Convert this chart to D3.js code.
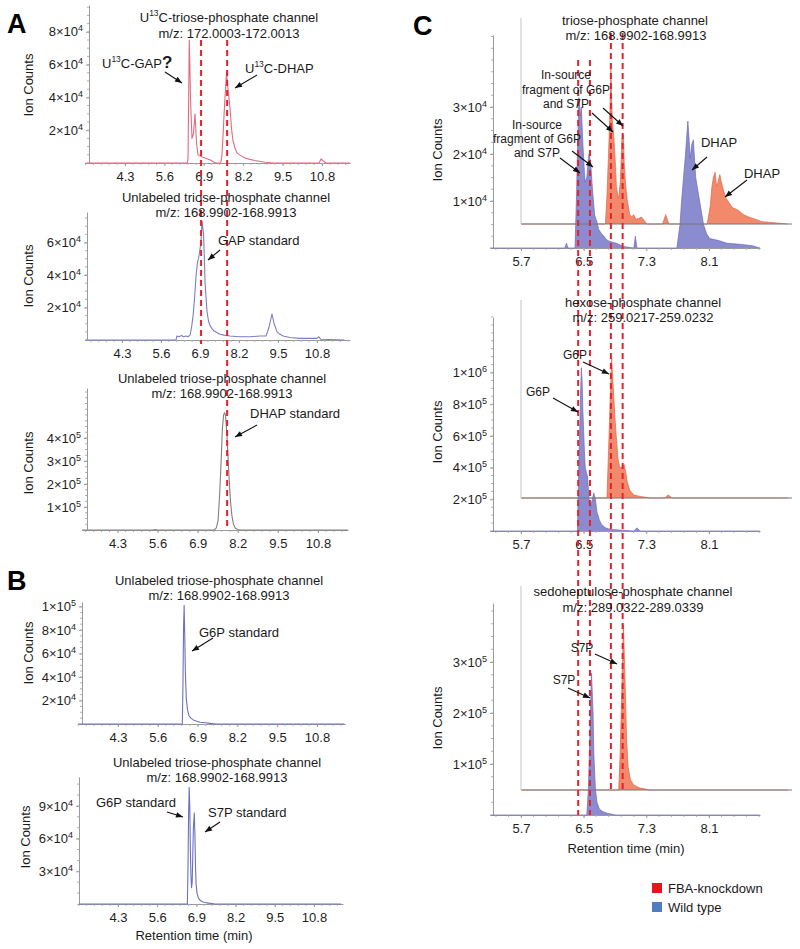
<!DOCTYPE html>
<html><head><meta charset="utf-8">
<script src="https://cdn.jsdelivr.net/npm/d3@7"></script>
<style>
body{margin:0;background:#fff;}
svg{display:block;}
</style></head>
<body><svg id="c" width="800" height="949"></svg>
<script>
// ---------------- DATA ----------------
const xTicksAB = [4.3, 5.6, 6.9, 8.2, 9.5, 10.8];
const xTicksC = [5.7, 6.5, 7.3, 8.1];

// Panel A1: U13C-triose-phosphate channel
const A1_time = [3.0, 6.36, 6.38, 6.40, 6.42, 6.44, 6.46, 6.51, 6.56, 6.61, 6.66, 6.71, 6.76, 6.81, 6.87, 6.94, 7.02, 7.10, 7.24, 7.30, 7.46, 7.50, 7.53, 7.57, 7.60, 7.65, 7.70, 7.74, 7.77, 7.82, 7.86, 7.93, 8.00, 8.12, 8.26, 8.42, 8.59, 8.92, 9.20, 10.70, 10.77, 10.83, 10.93, 11.72];
const A1_counts = [0, 0, 0.3e4, 4.0e4, 7.5e4, 6.0e4, 4.0e4, 1.5e4, 1.8e4, 3.0e4, 1.2e4, 0.5e4, 0.45e4, 0.4e4, 0.35e4, 0.3e4, 0.25e4, 0.2e4, 0.05e4, 0, 0, 0.5e4, 1.5e4, 3.0e4, 4.0e4, 5.5e4, 4.5e4, 3.8e4, 3.2e4, 2.0e4, 1.4e4, 0.9e4, 0.6e4, 0.45e4, 0.3e4, 0.22e4, 0.15e4, 0.05e4, 0, 0, 0.25e4, 0.15e4, 0, 0];
const A1_yTicks = [2e4, 4e4, 6e4, 8e4];

// Panel A2: GAP standard
const A2_time = [3.0, 6.10, 6.13, 6.20, 6.28, 6.35, 6.43, 6.50, 6.57, 6.62, 6.67, 6.72, 6.77, 6.82, 6.87, 6.93, 6.97, 7.02, 7.07, 7.13, 7.18, 7.23, 7.30, 7.37, 7.47, 7.57, 7.70, 7.90, 8.20, 8.57, 8.90, 9.10, 9.15, 9.20, 9.25, 9.30, 9.37, 9.47, 9.57, 9.67, 9.90, 10.23, 10.80, 10.86, 10.92, 11.72];
const A2_counts = [0, 0, 0.25e4, 0.2e4, 0.28e4, 0.2e4, 0.25e4, 0.2e4, 0.3e4, 0.8e4, 1.5e4, 2.6e4, 4.0e4, 4.8e4, 5.2e4, 6.0e4, 7.3e4, 6.5e4, 3.5e4, 1.8e4, 1.2e4, 0.9e4, 0.7e4, 0.55e4, 0.45e4, 0.35e4, 0.3e4, 0.25e4, 0.2e4, 0.2e4, 0.25e4, 0.25e4, 0.5e4, 0.8e4, 1.2e4, 1.6e4, 1.0e4, 0.5e4, 0.35e4, 0.25e4, 0.15e4, 0.1e4, 0.1e4, 0.2e4, 0.05e4, 0];
const A2_yTicks = [2e4, 4e4, 6e4];

// Panel A3: DHAP standard
const A3_time = [3.15, 5.45, 5.52, 5.60, 7.43, 7.50, 7.56, 7.61, 7.66, 7.70, 7.74, 7.77, 7.80, 7.84, 7.88, 7.92, 7.96, 8.01, 8.06, 8.12, 8.20, 8.30, 11.77];
const A3_counts = [0, 0, 0.02e5, 0, 0, 0.08e5, 0.4e5, 1.5e5, 3.0e5, 4.4e5, 5.0e5, 5.1e5, 5.0e5, 4.3e5, 3.3e5, 2.2e5, 1.3e5, 0.6e5, 0.25e5, 0.08e5, 0.02e5, 0, 0];
const A3_yTicks = [1e5, 2e5, 3e5, 4e5];

// Panel B1: G6P standard
const B1_time = [3.0, 6.40, 6.42, 6.44, 6.46, 6.48, 6.50, 6.53, 6.57, 6.62, 6.68, 6.76, 6.85, 6.98, 7.15, 7.31, 7.50, 11.7];
const B1_counts = [0, 0, 3e4, 8e4, 10.1e4, 7.5e4, 4.5e4, 2.2e4, 1.2e4, 0.7e4, 0.5e4, 0.35e4, 0.25e4, 0.15e4, 0.1e4, 0.05e4, 0, 0];
const B1_yTicks = [2e4, 4e4, 6e4, 8e4, 1e5];

// Panel B2: G6P + S7P standards
const B2_time = [3.0, 6.60, 6.62, 6.64, 6.66, 6.68, 6.70, 6.72, 6.74, 6.76, 6.78, 6.80, 6.83, 6.85, 6.87, 6.89, 6.92, 6.96, 7.02, 7.10, 7.25, 7.52, 11.7];
const B2_counts = [0, 0, 3e4, 8e4, 10.7e4, 9e4, 5e4, 2.5e4, 1.5e4, 2e4, 4.5e4, 7e4, 8.35e4, 6.5e4, 3.5e4, 1.8e4, 1e4, 0.6e4, 0.35e4, 0.2e4, 0.1e4, 0, 0];
const B2_yTicks = [3e4, 6e4, 9e4];

// Panel C1: triose-phosphate channel (wild type / FBA-knockdown)
const C1_wt_time = [5.30, 6.26, 6.28, 6.30, 6.39, 6.41, 6.42, 6.44, 6.46, 6.47, 6.49, 6.51, 6.52, 6.54, 6.56, 6.57, 6.59, 6.61, 6.62, 6.64, 6.67, 6.69, 6.73, 6.76, 6.79, 6.82, 6.87, 6.92, 7.01, 7.14, 7.16, 7.18, 7.69, 7.73, 7.75, 7.78, 7.80, 7.83, 7.85, 7.86, 7.88, 7.90, 7.93, 7.96, 7.98, 8.03, 8.07, 8.11, 8.17, 8.24, 8.33, 8.49, 8.65, 8.75];
const C1_wt_counts = [0, 0, 0.1e4, 0, 0, 1.2e4, 2.0e4, 3.2e4, 2.8e4, 3.0e4, 2.2e4, 1.6e4, 1.4e4, 1.5e4, 1.9e4, 2.0e4, 1.8e4, 1.3e4, 1.1e4, 0.7e4, 0.55e4, 0.4e4, 0.3e4, 0.25e4, 0.18e4, 0.15e4, 0.12e4, 0.1e4, 0.03e4, 0, 0.25e4, 0, 0, 0.5e4, 1.0e4, 1.6e4, 2.0e4, 2.7e4, 2.2e4, 1.9e4, 2.2e4, 2.3e4, 1.5e4, 1.2e4, 1.0e4, 0.5e4, 0.3e4, 0.2e4, 0.18e4, 0.15e4, 0.1e4, 0.08e4, 0.05e4, 0];
const C1_kd_time = [5.35, 6.42, 6.44, 6.46, 6.47, 6.48, 6.49, 6.50, 6.51, 6.53, 6.55, 6.56, 6.58, 6.59, 6.61, 6.62, 6.63, 6.65, 6.66, 6.68, 6.70, 6.73, 6.76, 6.78, 6.81, 6.85, 6.88, 6.95, 7.15, 7.19, 7.23, 7.72, 7.76, 7.78, 7.80, 7.82, 7.84, 7.86, 7.88, 7.90, 7.93, 7.96, 8.00, 8.04, 8.11, 8.18, 8.25, 8.42, 8.75];
const C1_kd_counts = [0, 0, 0.6e4, 1.5e4, 2.0e4, 2.5e4, 3.3e4, 2.6e4, 2.2e4, 1.8e4, 1.2e4, 0.8e4, 0.6e4, 0.55e4, 0.9e4, 1.3e4, 1.8e4, 1.9e4, 1.3e4, 0.8e4, 0.5e4, 0.2e4, 0.15e4, 0.2e4, 0.1e4, 0.12e4, 0.15e4, 0, 0, 0.2e4, 0, 0, 0.4e4, 0.8e4, 1.0e4, 1.1e4, 0.8e4, 0.9e4, 1.05e4, 0.9e4, 0.7e4, 0.55e4, 0.45e4, 0.35e4, 0.3e4, 0.2e4, 0.15e4, 0.05e4, 0];
const C1_yTicks = [1e4, 2e4, 3e4];

// Panel C2: hexose-phosphate channel
const C2_wt_time = [5.30, 6.42, 6.44, 6.46, 6.47, 6.48, 6.49, 6.51, 6.52, 6.54, 6.55, 6.57, 6.59, 6.61, 6.63, 6.65, 6.67, 6.70, 6.73, 6.78, 6.84, 7.14, 7.18, 7.22, 8.75];
const C2_wt_counts = [0, 0, 0.45e6, 0.85e6, 1.03e6, 0.95e6, 0.76e6, 0.5e6, 0.4e6, 0.36e6, 0.34e6, 0.18e6, 0.15e6, 0.2e6, 0.24e6, 0.2e6, 0.12e6, 0.07e6, 0.04e6, 0.02e6, 0.01e6, 0, 0.02e6, 0, 0];
const C2_kd_time = [5.35, 6.44, 6.46, 6.48, 6.50, 6.52, 6.54, 6.56, 6.58, 6.60, 6.62, 6.64, 6.66, 6.68, 6.70, 6.73, 6.78, 6.86, 7.0, 7.18, 7.22, 7.27, 8.75];
const C2_kd_counts = [0, 0, 0.3e6, 0.6e6, 0.88e6, 0.7e6, 0.52e6, 0.38e6, 0.25e6, 0.2e6, 0.19e6, 0.2e6, 0.21e6, 0.16e6, 0.1e6, 0.05e6, 0.02e6, 0.01e6, 0, 0, 0.02e6, 0, 0];
const C2_yTicks = [2e5, 4e5, 6e5, 8e5, 1e6];

// Panel C3: sedoheptulose-phosphate channel
const C3_wt_time = [5.30, 6.54, 6.56, 6.58, 6.60, 6.62, 6.63, 6.65, 6.67, 6.70, 6.74, 6.81, 6.91, 8.75];
const C3_wt_counts = [0, 0, 0.5e5, 1.6e5, 2.78e5, 2.0e5, 1.2e5, 0.5e5, 0.25e5, 0.12e5, 0.07e5, 0.03e5, 0, 0];
const C3_kd_time = [5.35, 6.59, 6.61, 6.63, 6.65, 6.67, 6.69, 6.71, 6.74, 6.78, 6.86, 6.99, 8.75];
const C3_kd_counts = [0, 0, 0.8e5, 2.0e5, 3.24e5, 2.2e5, 1.0e5, 0.45e5, 0.2e5, 0.1e5, 0.04e5, 0, 0];
const C3_yTicks = [1e5, 2e5, 3e5];

// reference retention times (dashed lines)
const dashA_times = [6.81, 7.67];
const dashC_wt_times = [6.43, 6.58];
const dashC_kd_times = [6.49, 6.64];

const legendLabels = ["FBA-knockdown", "Wild type"];
const legendColors = ["#e8141c", "#4f7fc2"];

// ---------------- DRAWING ----------------
const FONT = "'Liberation Sans', Arial, Helvetica, sans-serif";
const AX = "#9a9a9a";
const svg = d3.select("#c").attr("font-family", FONT);
const defs = svg.append("defs");
defs.append("marker").attr("id", "arr").attr("viewBox", "0 0 10 10")
  .attr("refX", 10).attr("refY", 5).attr("markerWidth", 8).attr("markerHeight", 7)
  .attr("markerUnits", "userSpaceOnUse").attr("orient", "auto")
  .append("path").attr("d", "M0,1 L10,5 L0,9 z").attr("fill", "#111");

function mkX(t1, p1, t2, p2, left, right) {
  const s = d3.scaleLinear().domain([t1, t2]).range([p1, p2]);
  return d3.scaleLinear().domain([s.invert(left), s.invert(right)]).range([left, right]).clamp(true);
}
function mkY(base, ppu, top) {
  return d3.scaleLinear().domain([0, (base - top) / ppu]).range([base, top]);
}
function styleAxis(a) {
  a.select(".domain").attr("stroke", AX);
  a.selectAll(".tick line").attr("stroke", AX);
  a.selectAll(".tick text").attr("fill", "#1e1e1e").attr("font-size", 13).attr("font-family", FONT);
}
function sciFmt(sel) {
  sel.each(function (d) {
    const t = d3.select(this); t.text("");
    const e = Math.floor(Math.log10(d) + 1e-9);
    const m = Math.round(d / Math.pow(10, e));
    t.append("tspan").text(m + "×10");
    t.append("tspan").attr("font-size", 9).attr("dy", -5).text(e);
  });
}
function xAxis(g, xs, y0, ticks, minorStep) {
  const a = g.append("g").attr("transform", `translate(0,${y0})`)
    .call(d3.axisBottom(xs).tickValues(ticks).tickSize(3).tickSizeOuter(0).tickPadding(6).tickFormat(d3.format(".1f")));
  styleAxis(a);
  const [d0, d1] = xs.domain();
  const minors = d3.range(Math.ceil((d0 - ticks[0]) / minorStep), Math.floor((d1 - ticks[0]) / minorStep) + 1)
    .map(i => ticks[0] + i * minorStep);
  a.selectAll(".mn").data(minors).join("line").attr("class", "mn")
    .attr("x1", d => xs(d)).attr("x2", d => xs(d)).attr("y1", 0).attr("y2", 2).attr("stroke", "#b0b0b0");
}
function yAxis(g, ys, x0, ticks, minorStep) {
  const a = g.append("g").attr("transform", `translate(${x0},0)`)
    .call(d3.axisLeft(ys).tickValues(ticks).tickSize(3).tickSizeOuter(0).tickPadding(3));
  styleAxis(a);
  a.selectAll(".tick text").call(sciFmt);
  const minors = d3.range(1, Math.floor(ys.domain()[1] / minorStep) + 1).map(i => i * minorStep);
  a.selectAll(".mn").data(minors).join("line").attr("class", "mn")
    .attr("y1", d => ys(d)).attr("y2", d => ys(d)).attr("x1", 0).attr("x2", -2).attr("stroke", "#b0b0b0");
}
function rich(x, y, parts, opts = {}) {
  const fs = opts.fs || 13;
  const t = svg.append("text").attr("x", x).attr("y", y).attr("font-size", fs)
    .attr("fill", "#1a1a1a").attr("text-anchor", opts.anchor || "start");
  if (opts.rotate) t.attr("transform", `rotate(-90,${x},${y})`);
  let shift = 0;
  parts.forEach(p => {
    if (typeof p === "string") p = { t: p };
    const ts = t.append("tspan").text(p.t);
    if (p.sup) { ts.attr("font-size", fs * 0.65).attr("dy", -fs * 0.4); shift = fs * 0.4; }
    else if (shift) { ts.attr("dy", shift); shift = 0; }
    if (p.bold) ts.attr("font-weight", "bold");
    if (p.fs) ts.attr("font-size", p.fs);
  });
  return t;
}
function arrow(x1, y1, x2, y2) {
  svg.append("line").attr("x1", x1).attr("y1", y1).attr("x2", x2).attr("y2", y2)
    .attr("stroke", "#111").attr("stroke-width", 1.1).attr("marker-end", "url(#arr)");
}
function ionLabel(x, y) { rich(x, y, ["Ion Counts"], { anchor: "middle", rotate: true }); }

function stdPanel(cfg) {
  const xs = mkX(4.3, cfg.p43, 10.8, cfg.p108, cfg.left, cfg.right);
  const ys = mkY(cfg.base, cfg.ppu, cfg.top);
  const g = svg.append("g");
  xAxis(g, xs, cfg.base, xTicksAB, 0.26);
  yAxis(g, ys, cfg.yAxisX, cfg.yTicks, cfg.minor);
  const line = d3.line().x((d, i) => xs(cfg.t[i])).y(d => ys(d));
  g.append("path").datum(cfg.v).attr("d", line).attr("fill", "none")
    .attr("stroke", cfg.color).attr("stroke-width", 1.1).attr("stroke-linejoin", "round");
  return { xs, ys };
}

const C_DX = 28;
const WT_FILL = "#8b8bd0", WT_STROKE = "#6b6bb4";
const KD_FILL = "#f2896a", KD_STROKE = "#d9684a";
function cPanel(cfg) {
  const xs = mkX(5.7, 521, 8.1, 709, 490, 760);
  const ys = mkY(cfg.base, cfg.ppu, cfg.top);
  const yi = mkY(cfg.ibase, cfg.ppu, cfg.itop);
  const g = svg.append("g");
  xAxis(g, xs, cfg.base, xTicksC, 0.16);
  yAxis(g, ys, 493, cfg.yTicks, cfg.minor);
  const areaWt = d3.area().x((d, i) => xs(cfg.wt_t[i])).y0(ys(0)).y1(d => ys(d));
  const lineWt = d3.line().x((d, i) => xs(cfg.wt_t[i])).y(d => ys(d));
  const areaKd = d3.area().x((d, i) => xs(cfg.kd_t[i]) + C_DX).y0(yi(0)).y1(d => yi(d));
  const lineKd = d3.line().x((d, i) => xs(cfg.kd_t[i]) + C_DX).y(d => yi(d));
  g.append("path").datum(cfg.kd_v).attr("d", areaKd).attr("fill", KD_FILL);
  g.append("path").datum(cfg.kd_v).attr("d", lineKd).attr("fill", "none").attr("stroke", KD_STROKE).attr("stroke-width", 0.7);
  g.append("path").datum(cfg.wt_v).attr("d", areaWt).attr("fill", WT_FILL);
  g.append("path").datum(cfg.wt_v).attr("d", lineWt).attr("fill", "none").attr("stroke", WT_STROKE).attr("stroke-width", 0.7);
  // inner (offset) axes
  g.append("line").attr("x1", 493 + C_DX).attr("x2", 760 + 32).attr("y1", yi(0)).attr("y2", yi(0)).attr("stroke", "#777").attr("stroke-width", 1);
  g.append("line").attr("x1", 493 + C_DX).attr("x2", 493 + C_DX).attr("y1", yi(0)).attr("y2", yi.range()[1]).attr("stroke", "#c4c4c4").attr("stroke-width", 1);
  return { xs, ys, yi };
}

// ---- Panel A ----
const A1 = stdPanel({ p43: 125, p108: 322, left: 85, right: 350, yAxisX: 89, base: 163, ppu: 16.4e-4, top: 5,
  yTicks: A1_yTicks, minor: 0.5e4, t: A1_time, v: A1_counts, color: "#e46a80" });
const A2 = stdPanel({ p43: 122, p108: 317, left: 85, right: 350, yAxisX: 87, base: 340, ppu: 16.25e-4, top: 212,
  yTicks: A2_yTicks, minor: 0.5e4, t: A2_time, v: A2_counts, color: "#7a7ec6" });
const A3 = stdPanel({ p43: 117.5, p108: 318, left: 82, right: 348, yAxisX: 87, base: 530, ppu: 23e-5, top: 388,
  yTicks: A3_yTicks, minor: 0.25e5, t: A3_time, v: A3_counts, color: "#808080" });
// ---- Panel B ----
const B1 = stdPanel({ p43: 118, p108: 317, left: 78, right: 345, yAxisX: 82, base: 724, ppu: 11.75e-4, top: 602,
  yTicks: B1_yTicks, minor: 0.5e4, t: B1_time, v: B1_counts, color: "#6c72bf" });
const B2 = stdPanel({ p43: 118, p108: 314, left: 77, right: 343, yAxisX: 79, base: 904, ppu: 10.9e-4, top: 777,
  yTicks: B2_yTicks, minor: 1e4, t: B2_time, v: B2_counts, color: "#6c72bf" });
// ---- Panel C ----
const C1 = cPanel({ base: 248, ppu: 47e-4, top: 35, ibase: 224, itop: 18, yTicks: C1_yTicks, minor: 0.25e4,
  wt_t: C1_wt_time, wt_v: C1_wt_counts, kd_t: C1_kd_time, kd_v: C1_kd_counts });
const C2 = cPanel({ base: 531, ppu: 158.5e-6, top: 317, ibase: 498, itop: 300, yTicks: C2_yTicks, minor: 0.5e5,
  wt_t: C2_wt_time, wt_v: C2_wt_counts, kd_t: C2_kd_time, kd_v: C2_kd_counts });
const C3 = cPanel({ base: 815, ppu: 51e-5, top: 603, ibase: 790, itop: 586, yTicks: C3_yTicks, minor: 0.25e5,
  wt_t: C3_wt_time, wt_v: C3_wt_counts, kd_t: C3_kd_time, kd_v: C3_kd_counts });

// ---- dashed reference lines ----
function dash(x, y1, y2) {
  svg.append("line").attr("x1", x).attr("x2", x).attr("y1", y1).attr("y2", y2)
    .attr("stroke", "#e8202a").attr("stroke-width", 2).attr("stroke-dasharray", "6,4");
}
dash(A1.xs(dashA_times[0]), 40, A2.ys(0) + 4);
dash(A1.xs(dashA_times[1]), 40, A3.ys(0));
dashC_wt_times.forEach(t => dash(C1.xs(t), 60, C3.ys(0)));
dashC_kd_times.forEach(t => dash(C1.xs(t) + C_DX, 33, C3.yi(0)));

// ---- titles ----
rich(229, 21.5, ["U", { t: "13", sup: true }, "C-triose-phosphate channel"], { anchor: "middle" });
rich(229, 37.5, ["m/z: 172.0003-172.0013"], { anchor: "middle" });
rich(226, 201.5, ["Unlabeled triose-phosphate channel"], { anchor: "middle" });
rich(226, 216.5, ["m/z: 168.9902-168.9913"], { anchor: "middle" });
rich(222, 382.5, ["Unlabeled triose-phosphate channel"], { anchor: "middle" });
rich(222, 397.5, ["m/z: 168.9902-168.9913"], { anchor: "middle" });
rich(219, 584.5, ["Unlabeled triose-phosphate channel"], { anchor: "middle" });
rich(219, 599.5, ["m/z: 168.9902-168.9913"], { anchor: "middle" });
rich(217, 766.5, ["Unlabeled triose-phosphate channel"], { anchor: "middle" });
rich(217, 781.5, ["m/z: 168.9902-168.9913"], { anchor: "middle" });
rich(635, 24.5, ["triose-phosphate channel"], { anchor: "middle" });
rich(636, 39.5, ["m/z: 168.9902-168.9913"], { anchor: "middle" });
rich(643, 306.5, ["hexose-phosphate channel"], { anchor: "middle" });
rich(643, 321.5, ["m/z: 259.0217-259.0232"], { anchor: "middle" });
rich(633, 595.5, ["sedoheptulose-phosphate channel"], { anchor: "middle" });
rich(633, 611.5, ["m/z: 289.0322-289.0339"], { anchor: "middle" });

// ---- axis titles ----
[[28, 85], [28, 276], [28, 463], [28, 653], [25, 837], [437, 150], [437, 432], [437, 718]].forEach(p => ionLabel(p[0] + 4.5, p[1]));
rich(194, 939.5, ["Retention time (min)"], { anchor: "middle" });
rich(626, 852.5, ["Retention time (min)"], { anchor: "middle" });

// ---- panel letters ----
rich(7, 33, ["A"], { fs: 27 }).attr("font-weight", "bold").attr("fill", "#000");
rich(7, 590, ["B"], { fs: 27 }).attr("font-weight", "bold").attr("fill", "#000");
rich(413, 35, ["C"], { fs: 27 }).attr("font-weight", "bold").attr("fill", "#000");

// ---- annotations ----
rich(102, 67.5, ["U", { t: "13", sup: true }, "C-GAP", { t: "?", bold: true, fs: 17 }]);
arrow(165, 72, 182, 83);
rich(245, 72.5, ["U", { t: "13", sup: true }, "C-DHAP"]);
arrow(257, 75, 235, 88);
rich(218, 244.5, ["GAP standard"]);
arrow(220, 250, 208, 260);
rich(250, 417.5, ["DHAP standard"]);
arrow(257, 425, 235, 437);
rich(199, 636.5, ["G6P standard"]);
arrow(213, 638, 192, 651);
rich(96, 806.5, ["G6P standard"]);
arrow(167, 812, 183, 817);
rich(208, 816.5, ["S7P standard"]);
arrow(220, 822, 205, 832);

// C1
[["In-source", 79], ["fragment of G6P", 93.5], ["and S7P", 108]].forEach(l => rich(566, l[1], [l[0]], { anchor: "middle", fs: 12 }));
arrow(592, 113, 613, 132);
arrow(603, 108, 623, 126);
[["In-source", 129], ["fragment of G6P", 142.5], ["and S7P", 157]].forEach(l => rich(537, l[1], [l[0]], { anchor: "middle", fs: 12 }));
arrow(560, 158, 580, 173);
arrow(572, 151, 593, 167);
rich(719, 146.5, ["DHAP"], { anchor: "middle" });
arrow(707, 157, 692, 170);
rich(762, 177.5, ["DHAP"], { anchor: "middle" });
arrow(747, 180, 725, 197);
// C2
rich(575, 359, ["G6P"], { anchor: "middle", fs: 12 });
arrow(583, 362, 609, 374);
rich(538, 396, ["G6P"], { anchor: "middle", fs: 12 });
arrow(553, 398, 578, 412);
// C3
rich(582, 652, ["S7P"], { anchor: "middle", fs: 12 });
arrow(595, 654, 617, 664);
rich(564, 684, ["S7P"], { anchor: "middle", fs: 12 });
arrow(568, 688, 590, 698);

// ---- legend ----
legendLabels.forEach((lab, i) => {
  svg.append("rect").attr("x", 652).attr("y", 883 + i * 19).attr("width", 10).attr("height", 10).attr("fill", legendColors[i]);
  rich(668, 892.5 + i * 19, [lab]);
});
</script>
</body></html>
